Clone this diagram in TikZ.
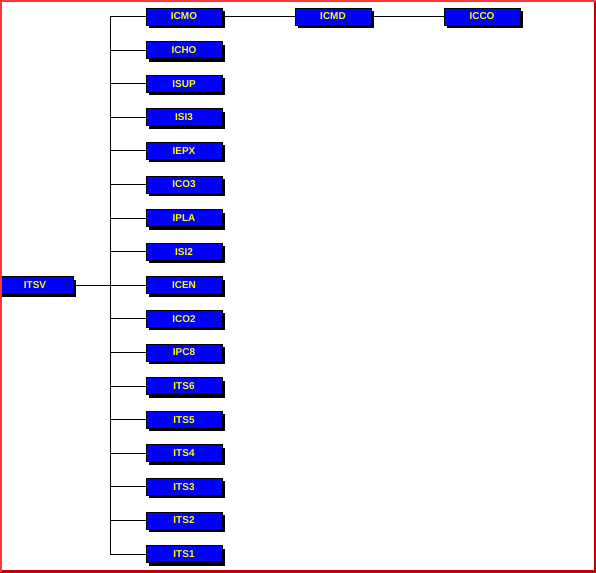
\documentclass[tikz,border=0pt]{standalone}
\usepackage{fontspec}
\setmainfont{Liberation Sans}
\usepackage{tikz}
\usetikzlibrary{positioning,shadows}
\definecolor{TreeBlue}{HTML}{0000FF}
\definecolor{TreeYellow}{HTML}{FFFF00}
\definecolor{FrameRed}{HTML}{FF3636}
\definecolor{FrameDark}{HTML}{C00000}

\begin{document}
\begin{tikzpicture}[x=1pt, y=1pt, node distance=15.8pt and 72.2pt,
    every node/.style={font=\fontsize{10}{10}\selectfont\bfseries},
    unit/.style={draw=black,line width=0.8pt,fill=TreeBlue,text=TreeYellow,minimum width=76pt,minimum height=17pt,inner sep=0pt,
      drop shadow={shadow xshift=3pt,shadow yshift=-3pt,fill=black,opacity=1}},
    lnk/.style={black,line width=1pt}]
    \useasboundingbox (0,0) rectangle (596,-572);
    \fill[white] (0,0) rectangle (596,-572);
    \node[unit] (icmo) at (184,-16.5) {ICMO};
    \node[unit,below=of icmo] (icho) {ICHO};
    \node[unit,below=of icho] (isup) {ISUP};
    \node[unit,below=of isup] (isi3) {ISI3};
    \node[unit,below=of isi3] (iepx) {IEPX};
    \node[unit,below=of iepx] (ico3) {ICO3};
    \node[unit,below=of ico3] (ipla) {IPLA};
    \node[unit,below=of ipla] (isi2) {ISI2};
    \node[unit,below=of isi2] (icen) {ICEN};
    \node[unit,below=of icen] (ico2) {ICO2};
    \node[unit,below=of ico2] (ipc8) {IPC8};
    \node[unit,below=of ipc8] (its6) {ITS6};
    \node[unit,below=of its6] (its5) {ITS5};
    \node[unit,below=of its5] (its4) {ITS4};
    \node[unit,below=of its4] (its3) {ITS3};
    \node[unit,below=of its3] (its2) {ITS2};
    \node[unit,below=of its2] (its1) {ITS1};
    \node[unit,left=of icen] (itsv) {ITSV};
    \node[unit,right=of icmo] (icmd) {ICMD};
    \node[unit,right=of icmd] (icco) {ICCO};
    % tree links
    \foreach \n in {icmo,icho,isup,isi3,iepx,ico3,ipla,isi2,icen,ico2,ipc8,its6,its5,its4,its3,its2,its1}
      \draw[lnk] (itsv.east) -- ++(37pt,0) |- (\n.west);
    \draw[lnk] (icmo) -- (icmd); \draw[lnk] (icmd) -- (icco);
    % frame
    \draw[FrameDark,line width=4pt] (596,0) -- (596,-572) -- (0,-572);
    \draw[FrameRed,line width=4pt] (0,-572) -- (0,0) -- (596,0);
  \end{tikzpicture}
\end{document}
